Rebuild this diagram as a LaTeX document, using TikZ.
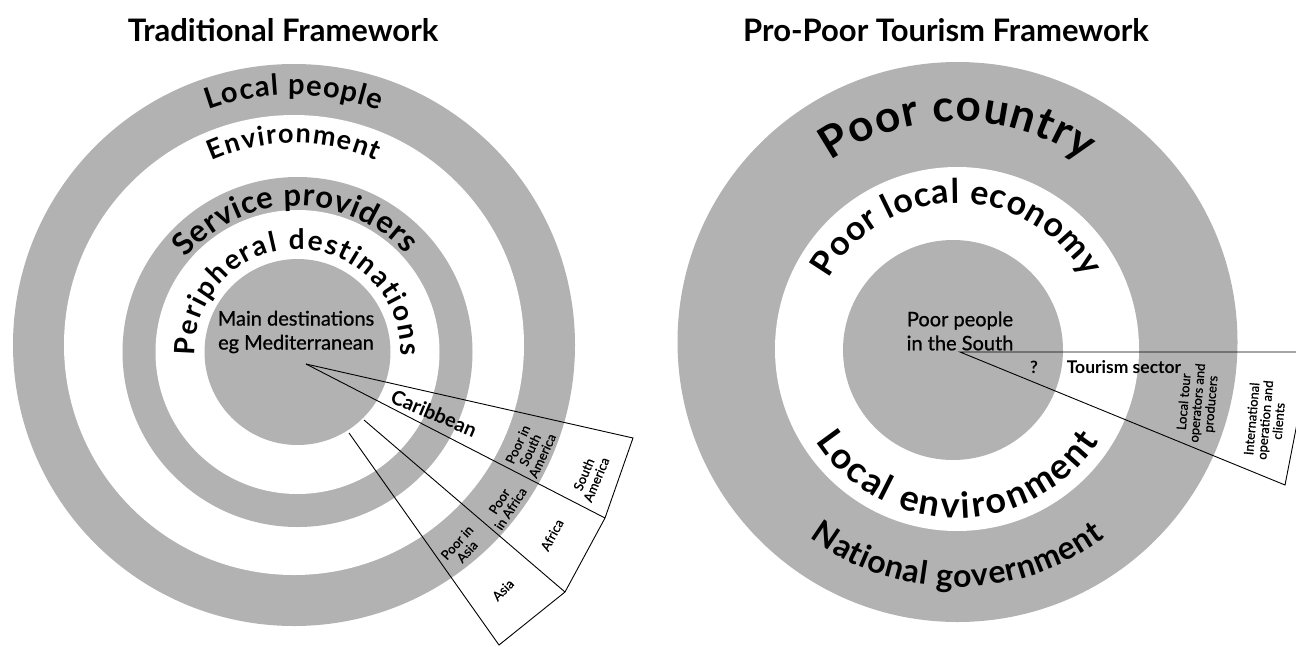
\documentclass[tikz,border=0pt]{standalone}
\usepackage{fontspec}
\setmainfont{Lato}
\newfontfamily\medfont[FakeBold=0.8]{Lato}
\usetikzlibrary{decorations.text}

\newcommand\fsz[2]{\fontsize{#1}{#2}\selectfont}

\begin{document}
\begin{tikzpicture}[x=1pt, y=-1pt,
  ring/.style={fill=black!30},
  hole/.style={fill=white},
  cut/.style={draw=black, line width=0.9pt},
  rim/.style={decorate, decoration={text along path, text align=fit to path, text={#1}}},
  midlabel/.style={align=center, inner sep=0pt, font=\medfont\fsz{20}{24}},
  slicelabel/.style={align=center, inner sep=0pt, font=\medfont\fsz{13}{13.5}}]
\useasboundingbox (0,0) rectangle (1296,646);

\node (tradtitle) [font=\fsz{31}{31}\bfseries] at (283,30) {Traditional Framework};
\node (pptitle) [font=\fsz{31}{31}\bfseries] at (946,30) {Pro-Poor Tourism Framework};

\coordinate (lc) at (294,345);
\coordinate (lcin) at (297.5,352);
\fill[ring] (lc) circle[radius=281pt];
\fill[hole] (lc) circle[radius=230pt];
\fill[ring] (lcin) circle[radius=175pt];
\fill[hole] (lcin) circle[radius=142pt];
\fill[ring] (lcin) circle[radius=93pt];

\coordinate (rc) at (957.5,342);
\coordinate (rcmid) at (957,349);
\coordinate (rcin) at (953,350);
\fill[ring] (rc) circle[radius=280pt];
\fill[hole] (rcmid) circle[radius=182pt];
\fill[ring] (rcin) circle[radius=110pt];

\path[rim={|\fsz{29}{29}\bfseries|Local people}] ([shift={(110:250pt)}]lc) arc[start angle=110, end angle=70, radius=250pt];
\path[rim={|\fsz{27}{27}\bfseries|Environment}] ([shift={(114:202pt)}]lc) arc[start angle=114, end angle=66, radius=202pt];
\path[rim={|\fsz{31}{31}\bfseries|Service providers}] ([shift={(140:146pt)}]lcin) arc[start angle=140, end angle=42, radius=146pt];
\path[rim={|\fsz{28}{28}\bfseries|Peripheral destinations}] ([shift={(182:103pt)}]lcin) arc[start angle=182, end angle=-2, radius=103pt];

\path[rim={|\fsz{44}{44}\bfseries|Poor country}] ([shift={(125:221pt)}]rc) arc[start angle=125, end angle=55, radius=221pt];
\path[rim={|\fsz{34}{34}\bfseries|Poor local economy}] ([shift={(151:146pt)}]rcmid) arc[start angle=151, end angle=29, radius=146pt];
\path[rim={|\fsz{36}{36}\bfseries|Local environment}] ([shift={(213:169pt)}]rcmid) arc[start angle=213, end angle=327, radius=169pt];
\path[rim={|\fsz{32}{32}\bfseries|National government}] ([shift={(233:245pt)}]rc) arc[start angle=233, end angle=307, radius=245pt];

\node (maindest) [midlabel] at (296,332) {Main destinations\\eg Mediterranean};
\node (poorsouth) [midlabel] at (960,331) {Poor people\\in the South};

\coordinate (apexL) at (306,364);
\coordinate (samtop) at (633,438);
\coordinate (sambot) at (605,518);
\coordinate (afrin) at (364,420);
\coordinate (afrbot) at (565,592);
\coordinate (asiain) at (349,433);
\coordinate (asiabot) at (499,645);
\draw[cut] (apexL) -- (samtop) -- (sambot) -- (afrbot) -- (asiabot) -- (asiain);
\draw[cut] (apexL) -- (sambot);
\draw[cut] (afrin) -- (afrbot);

\coordinate (apexR) at (960,352);
\coordinate (tourtop) at (1311,352);
\coordinate (tourbot) at (1285,485);
\draw[cut] (apexR) -- (tourtop) -- (tourbot) -- cycle;

\node (carib) [font=\fsz{20}{20}\bfseries, rotate=-23] at (434,413) {Caribbean};
\node (poorsam) [slicelabel, rotate=65] at (530,450) {Poor in\\South\\America};
\node (sam) [slicelabel, rotate=67] at (590,477) {South\\America};
\node (poorafr) [slicelabel, rotate=57] at (505,505) {Poor\\in Africa};
\node (afr) [slicelabel, rotate=62] at (552,535) {Africa};
\node (poorasia) [slicelabel, rotate=48] at (462,547) {Poor in\\Asia};
\node (asia) [slicelabel, rotate=45] at (503,590) {Asia};

\node (query) [font=\fsz{17}{17}\bfseries] at (1034,367) {?};
\node (toursec) [font=\fsz{17.5}{17.5}\bfseries] at (1124,367) {Tourism sector};
\node (localops) [slicelabel, rotate=85] at (1198,403) {Local tour\\operators and\\producers};
\node (intlops) [slicelabel, rotate=85] at (1265,420) {International\\operation and\\clients};
\end{tikzpicture}
\end{document}
